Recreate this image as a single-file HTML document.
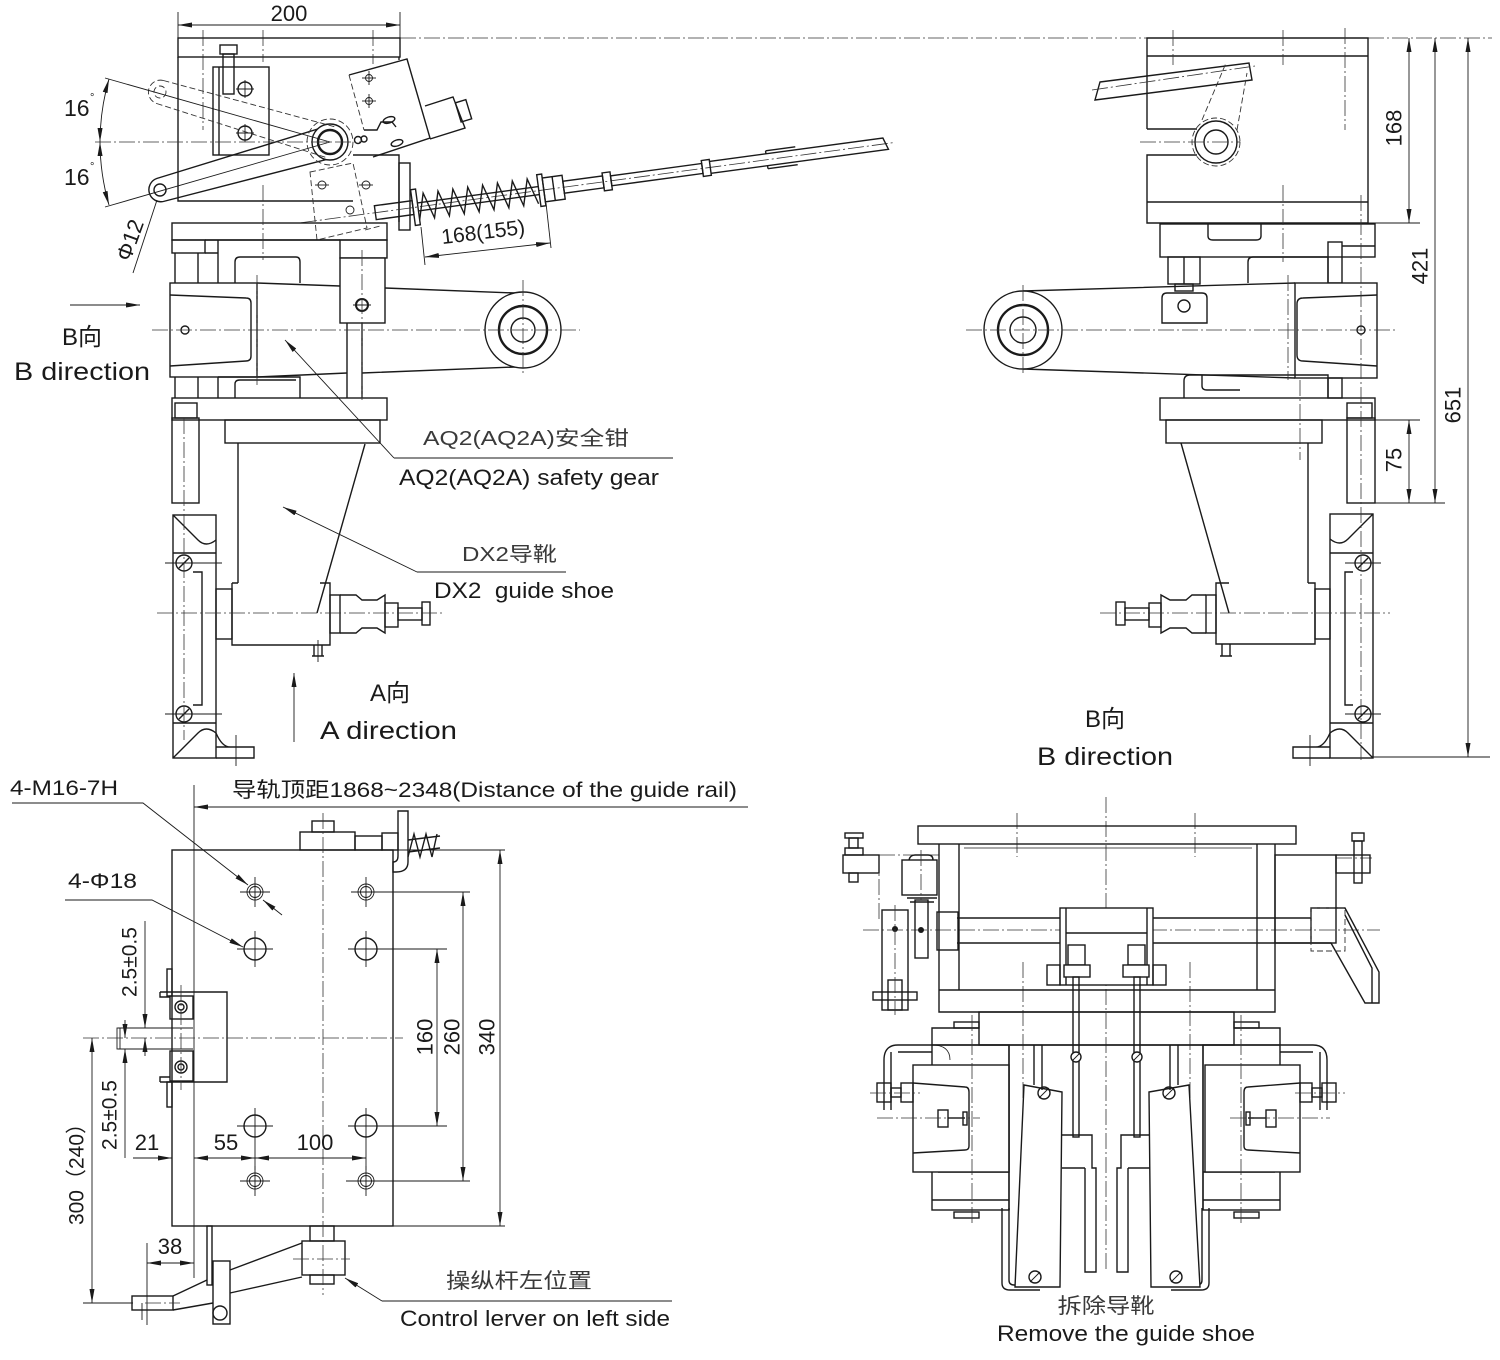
<!DOCTYPE html>
<html><head><meta charset="utf-8"><style>
html,body{margin:0;padding:0;background:#fff;}
svg{display:block;}
.o{stroke:#1a1a1a;stroke-width:1.4;fill:none;}
.w{stroke:#1a1a1a;stroke-width:1.4;fill:#fff;}
.t{stroke:#1a1a1a;stroke-width:0.9;fill:none;}
.k{stroke:#1a1a1a;stroke-width:2.4;fill:none;}
.c{stroke:#333;stroke-width:0.8;fill:none;stroke-dasharray:16 3 2 3;}
.d{stroke:#333;stroke-width:0.9;fill:none;stroke-dasharray:6 3;}
text{font-family:"Liberation Sans","Noto Sans CJK SC",sans-serif;fill:#1a1a1a;}
.g{fill:#3a3a3a;}
</style></head><body>
<svg width="1500" height="1360" viewBox="0 0 1500 1360" xmlns="http://www.w3.org/2000/svg">
<defs>
<marker id="a" viewBox="0 0 14 5" refX="14" refY="2.5" markerWidth="14" markerHeight="5" markerUnits="userSpaceOnUse" orient="auto-start-reverse"><path d="M0,0 L14,2.5 L0,5 z" fill="#1a1a1a"/></marker>
</defs>
<rect width="1500" height="1360" fill="#fff"/>

<!-- ================= TOP LEFT VIEW ================= -->
<line class="t" x1="178" y1="12" x2="178" y2="38"/>
<line class="t" x1="400" y1="12" x2="400" y2="38"/>
<line class="t" x1="178" y1="25" x2="400" y2="25" marker-start="url(#a)" marker-end="url(#a)"/>
<text x="289" y="21" font-size="22" text-anchor="middle">200</text>
<line class="c" x1="400" y1="38" x2="1147" y2="38"/>
<line class="c" x1="1368" y1="38" x2="1492" y2="38"/>
<line class="c" x1="203" y1="30" x2="203" y2="130"/>
<line class="c" x1="263" y1="30" x2="263" y2="62"/>
<line class="c" x1="373" y1="30" x2="373" y2="64"/>

<g class="o">
<rect x="178" y="38" width="222" height="19"/>
<path d="M178,57 V201 H353"/>
<path d="M399,57 V60"/>
<rect x="213" y="67" width="56" height="88"/>
<line x1="219" y1="67" x2="219" y2="155"/>
<rect x="220" y="45" width="17" height="9"/>
<rect x="223" y="54" width="11" height="40"/>
<circle cx="245" cy="89" r="7"/>
<circle cx="245" cy="133" r="7"/>
<!-- switch box -->
<path d="M349,75 L407,59 L430,138 L373,157"/>
<path d="M425,106 L453,97 L465,128 L430,139"/>
<path d="M364,130 H377 L381,122 H392 L396,127"/>
<rect x="458" y="101" width="11" height="20" transform="rotate(-17 463 111)"/>
<ellipse cx="389" cy="120" rx="6" ry="3" transform="rotate(-17 389 120)"/>
<ellipse cx="397" cy="143" rx="6" ry="3" transform="rotate(-17 397 143)"/>
<circle cx="358" cy="140" r="3.5"/><circle cx="364" cy="139" r="3"/>
<path d="M353,155 H399 V222"/>
<rect x="399" y="163" width="11" height="67"/>
<!-- lever -->
<path d="M156.7,178.5 L325.6,126.6 M163.3,201.5 L334.4,157.4 M156.7,178.5 A12,12 0 0 0 163.3,201.5"/>
<circle cx="160" cy="190" r="6"/>
<circle cx="330" cy="142" r="18" class="w"/>
<circle cx="330" cy="142" r="12" class="k"/>
</g>
<g class="t">
<line x1="245" y1="80" x2="245" y2="98"/><line x1="236" y1="89" x2="254" y2="89"/>
<line x1="245" y1="124" x2="245" y2="142"/><line x1="236" y1="133" x2="254" y2="133"/>
</g>
<g class="d">
<path d="M163.4,80.5 L334.5,126.7 M156.6,103.5 L325.5,157.3 M163.4,80.5 A12,12 0 0 0 156.6,103.5"/>
<circle cx="160" cy="92" r="6"/>
<circle cx="330" cy="142" r="23"/>
<path d="M349,75 L364,130"/>
<path d="M310,172 L353,163 L367,228 L317,240 Z"/>
<path d="M365,230 L380,226"/>
</g>
<g class="t">
<circle cx="369" cy="78" r="3.5"/><circle cx="369" cy="101" r="3.5"/>
<circle cx="322" cy="185" r="4"/><circle cx="366" cy="185" r="4"/><circle cx="350" cy="210" r="4"/>
<line x1="362" y1="78" x2="376" y2="78"/><line x1="369" y1="71" x2="369" y2="85"/>
<line x1="362" y1="101" x2="376" y2="101"/><line x1="369" y1="94" x2="369" y2="108"/>
<line x1="315" y1="185" x2="329" y2="185"/><line x1="359" y1="185" x2="373" y2="185"/>
</g>
<line class="c" x1="95" y1="142" x2="360" y2="142"/>
<line class="t" x1="105" y1="78" x2="330" y2="142"/>
<line class="t" x1="105" y1="207" x2="330" y2="142"/>
<path class="t" d="M109,79 A230,230 0 0 0 100,142" marker-start="url(#a)" marker-end="url(#a)"/>
<path class="t" d="M100,142 A230,230 0 0 0 109,205" marker-start="url(#a)" marker-end="url(#a)"/>
<text x="64" y="116" font-size="23">16</text><text x="90" y="101" font-size="11">°</text>
<text x="64" y="185" font-size="23">16</text><text x="90" y="170" font-size="11">°</text>
<line class="t" x1="157" y1="200" x2="133" y2="273"/>
<text x="130" y="240" font-size="22" text-anchor="middle" dominant-baseline="central" transform="rotate(-70 130 240)">Φ12</text>

<!-- cable & spring -->
<g transform="rotate(-7.7 410 208)">
<line class="c" x1="300" y1="208" x2="898" y2="208"/>
<g class="o">
<rect x="375" y="201" width="38" height="14"/>
<rect x="413" y="190" width="5" height="36"/>
<line x1="418" y1="204" x2="540" y2="204"/><line x1="418" y1="212" x2="540" y2="212"/>
<polyline points="418,221 425,195 433,221 440,195 448,221 455,195 463,221 470,195 478,221 485,195 493,221 500,195 508,221 515,195 523,221 530,195 538,221"/>
<rect x="540" y="192" width="5" height="32"/>
<rect x="545" y="196" width="20" height="24"/>
<line x1="555" y1="196" x2="555" y2="220"/>
<rect x="565" y="202" width="40" height="12"/>
<rect x="605" y="199" width="8" height="18"/>
<rect x="613" y="203" width="92" height="10"/>
<rect x="705" y="200" width="8" height="16"/>
<path d="M713,202 H888 L892,214 H713"/>
<path d="M770,199 H800 M770,217 H800 M770,199 V202 M770,214 V217"/>
</g>
</g>
<line class="t" x1="421" y1="227" x2="425" y2="265"/>
<line class="t" x1="546" y1="203" x2="551" y2="248"/>
<line class="t" x1="425" y1="257" x2="550" y2="243" marker-start="url(#a)" marker-end="url(#a)"/>
<text x="484" y="239" font-size="21" text-anchor="middle" transform="rotate(-7 484 239)">168(155)</text>

<!-- lower base -->
<g class="o">
<rect x="172" y="223" width="215" height="17"/>
<rect x="172" y="240" width="33" height="13"/>
<path d="M218,240 V283 M205,240 H340 M205,253 H218"/>
<path d="M235,283 V262 Q235,257 240,257 H296 Q300,257 300,262 V283"/>
<rect x="340" y="240" width="47" height="18"/>
<path d="M175,253 V283 M198,253 V283 M175,377 V398 M198,377 V398"/>
<rect x="170" y="283" width="87" height="94" class="w"/>
<path d="M170,295 L246,298 Q251,298 251,303 V356 Q251,361 246,361 L170,366"/>
<path d="M257,283 L340,286 M385,288 L515,293"/>
<path d="M257,377 L347,373 M362,373 L515,367"/>
<circle cx="523" cy="330" r="38" class="w"/>
<circle cx="523" cy="330" r="24" class="k"/>
<circle cx="523" cy="330" r="12"/>
<rect x="340" y="258" width="45" height="65" class="w"/>
<circle cx="362" cy="305" r="6" stroke-width="2"/>
<path d="M347,323 V398 M362,323 V398"/>
<circle cx="185" cy="330" r="4"/>
<path d="M218,377 H300 V398 M218,377 V398"/>
<path d="M235,398 V384 Q235,380 240,380 H296"/>
<rect x="172" y="398" width="215" height="22"/>
<rect x="175" y="403" width="22" height="15"/>
</g>
<line class="c" x1="152" y1="330" x2="580" y2="330"/>
<line class="c" x1="257" y1="275" x2="257" y2="385"/>
<line class="c" x1="263" y1="185" x2="263" y2="260"/>
<line class="c" x1="362" y1="250" x2="362" y2="400"/>
<line class="c" x1="523" y1="280" x2="523" y2="375"/>
<line class="t" x1="353" y1="305" x2="371" y2="305"/>

<g class="o">
<rect x="225" y="420" width="155" height="23"/>
<path d="M238,443 V583 M365,444 L317,613"/>
<rect x="172" y="418" width="27" height="85"/>
<rect x="173" y="515" width="43" height="243"/>
<path d="M173,515 L198,540 Q206,548 216,540"/>
<path d="M173,758 L198,733 Q206,725 216,733"/>
<path d="M173,553 H216 M173,723 H216 M193,572 H202 V705 H193"/>
<path d="M216,747 H254 V758 H216 M216,733 Q222,747 230,747"/>
<circle cx="184" cy="563" r="8"/><line x1="179" y1="568" x2="189" y2="558"/>
<circle cx="184" cy="714" r="8"/><line x1="179" y1="719" x2="189" y2="709"/>
<path d="M232,583 H238 M232,583 V645 H330 V583 H320"/>
<rect x="216" y="589" width="16" height="50"/>
<rect x="330" y="595" width="10" height="38"/>
<path d="M340,595 H356 L362,600 H377 L385,595 V633 L377,628 H362 L356,633 H340"/>
<rect x="385" y="603" width="13" height="24"/>
<rect x="398" y="608" width="24" height="12"/>
<rect x="422" y="602" width="8" height="23"/>
<path d="M314,645 V656 M322,645 V656 M312,656 H324"/>
</g>
<line class="c" x1="184" y1="418" x2="184" y2="740"/>
<line class="c" x1="157" y1="613" x2="445" y2="613"/>
<line class="t" x1="165" y1="563" x2="222" y2="563"/>
<line class="t" x1="165" y1="714" x2="222" y2="714"/>
<line class="t" x1="236" y1="735" x2="236" y2="766"/>
<line class="t" x1="318" y1="640" x2="318" y2="662"/>

<line class="t" x1="70" y1="305" x2="140" y2="305" marker-end="url(#a)"/>
<text x="82" y="345" font-size="24" text-anchor="middle">B向</text>
<text x="14" y="380" font-size="25" textLength="136" lengthAdjust="spacingAndGlyphs">B direction</text>
<line class="t" x1="294" y1="742" x2="294" y2="673" marker-end="url(#a)"/>
<text x="390" y="701" font-size="24" text-anchor="middle">A向</text>
<text x="320" y="739" font-size="25" textLength="137" lengthAdjust="spacingAndGlyphs">A direction</text>
<line class="t" x1="394" y1="458" x2="285" y2="340" marker-end="url(#a)"/>
<line class="t" x1="394" y1="458" x2="673" y2="458"/>
<text x="423" y="445" font-size="20" class="g" textLength="206" lengthAdjust="spacingAndGlyphs">AQ2(AQ2A)安全钳</text>
<text x="399" y="485" font-size="22" textLength="260" lengthAdjust="spacingAndGlyphs">AQ2(AQ2A) safety gear</text>
<line class="t" x1="417" y1="572" x2="283" y2="507" marker-end="url(#a)"/>
<line class="t" x1="417" y1="572" x2="566" y2="572"/>
<text x="462" y="561" font-size="20" class="g" textLength="95" lengthAdjust="spacingAndGlyphs">DX2导靴</text>
<text x="434" y="598" font-size="22" textLength="180" lengthAdjust="spacingAndGlyphs" xml:space="preserve">DX2  guide shoe</text>

<!-- ================= TOP RIGHT (B) VIEW ================= -->
<g class="o">
<path d="M1147,129 V38 H1368 V223 H1147 V155 H1197 M1147,129 H1197"/>
<line x1="1147" y1="56" x2="1368" y2="56"/>
<line x1="1147" y1="202" x2="1368" y2="202"/>
<path d="M1100,82 L1249,63 L1252,80 L1095,100 Z"/>
<circle cx="1216" cy="142" r="21" class="w"/>
<circle cx="1216" cy="142" r="12"/>
<rect x="1160" y="224" width="215" height="33"/>
<path d="M1208,224 V236 Q1208,240 1213,240 H1256 Q1261,240 1261,236 V224"/>
<rect x="1168" y="257" width="32" height="27"/>
<line x1="1184" y1="257" x2="1184" y2="284"/>
<rect x="1175" y="284" width="18" height="7"/>
<path d="M1248,283 V262 Q1248,257 1253,257 H1328 V283"/>
<rect x="1328" y="242" width="14" height="41"/>
<path d="M1342,246 H1375"/>
<rect x="1295" y="283" width="82" height="95" class="w"/>
<path d="M1377,295 L1303,298 Q1297,298 1297,304 V355 Q1297,361 1303,361 L1377,366"/>
<path d="M1023,291 L1295,283 M1023,369 L1295,378"/>
<circle cx="1023" cy="330" r="39" class="w"/>
<circle cx="1023" cy="330" r="25" class="k"/>
<circle cx="1023" cy="330" r="13"/>
<path d="M1162,323 V298 Q1162,293 1167,293 H1202 Q1207,293 1207,298 V323 Z"/>
<circle cx="1184" cy="306" r="6"/>
<circle cx="1361" cy="330" r="4"/>
<path d="M1184,398 V381 Q1184,375 1190,375 H1328 V398"/>
<path d="M1202,375 V386 Q1202,390 1207,390 H1240"/>
<rect x="1328" y="378" width="14" height="20"/>
<rect x="1160" y="398" width="215" height="22"/>
<rect x="1347" y="403" width="25" height="15"/>
<rect x="1166" y="420" width="156" height="23"/>
<path d="M1308,443 V583 M1181,443 L1229,613"/>
<rect x="1347" y="418" width="28" height="85"/>
<rect x="1330" y="514" width="43" height="244"/>
<path d="M1373,514 L1348,539 Q1340,547 1330,539"/>
<path d="M1373,758 L1348,733 Q1340,725 1330,733"/>
<path d="M1330,553 H1373 M1330,723 H1373 M1353,572 H1345 V705 H1353"/>
<path d="M1330,747 H1293 V758 H1330 M1330,733 Q1324,747 1316,747"/>
<circle cx="1363" cy="563" r="8"/><line x1="1358" y1="568" x2="1368" y2="558"/>
<circle cx="1363" cy="714" r="8"/><line x1="1358" y1="719" x2="1368" y2="709"/>
<path d="M1308,583 H1315 V644 H1216 V583 H1229"/>
<rect x="1315" y="589" width="15" height="50"/>
<rect x="1206" y="595" width="10" height="38"/>
<path d="M1206,595 H1192 L1186,600 H1170 L1161,595 V633 L1170,628 H1186 L1192,633 H1206"/>
<rect x="1149" y="603" width="12" height="24"/>
<rect x="1125" y="608" width="24" height="12"/>
<rect x="1116" y="602" width="9" height="23"/>
<path d="M1222,644 V656 M1230,644 V656 M1220,656 H1232"/>
</g>
<g class="d">
<path d="M1202,120 L1226,63 M1237,130 L1247,73"/>
<circle cx="1216" cy="142" r="24"/>
</g>
<line class="c" x1="1140" y1="142" x2="1240" y2="142"/>
<line class="c" x1="1092" y1="90" x2="1255" y2="66"/>
<line class="c" x1="1173" y1="30" x2="1173" y2="65"/>
<line class="c" x1="1283" y1="30" x2="1283" y2="65"/>
<line class="c" x1="1345" y1="28" x2="1345" y2="130"/>
<line class="c" x1="1283" y1="185" x2="1283" y2="262"/>
<line class="c" x1="1361" y1="195" x2="1361" y2="760"/>
<line class="c" x1="966" y1="330" x2="1395" y2="330"/>
<line class="c" x1="1023" y1="285" x2="1023" y2="375"/>
<line class="c" x1="1100" y1="613" x2="1390" y2="613"/>
<line class="c" x1="1288" y1="275" x2="1288" y2="380"/>
<line class="c" x1="1300" y1="380" x2="1300" y2="460"/>
<line class="t" x1="1345" y1="563" x2="1381" y2="563"/>
<line class="t" x1="1345" y1="714" x2="1381" y2="714"/>
<line class="t" x1="1310" y1="735" x2="1310" y2="766"/>
<line class="t" x1="1368" y1="223" x2="1420" y2="223"/>
<line class="t" x1="1375" y1="420" x2="1420" y2="420"/>
<line class="t" x1="1375" y1="503" x2="1445" y2="503"/>
<line class="t" x1="1373" y1="757" x2="1490" y2="757"/>
<line class="t" x1="1409" y1="38" x2="1409" y2="223" marker-start="url(#a)" marker-end="url(#a)"/>
<line class="t" x1="1435" y1="38" x2="1435" y2="503" marker-start="url(#a)" marker-end="url(#a)"/>
<line class="t" x1="1468" y1="38" x2="1468" y2="757" marker-start="url(#a)" marker-end="url(#a)"/>
<line class="t" x1="1409" y1="420" x2="1409" y2="503" marker-start="url(#a)" marker-end="url(#a)"/>
<text x="1394" y="128" font-size="22" text-anchor="middle" dominant-baseline="central" transform="rotate(-90 1394 128)">168</text>
<text x="1420" y="266" font-size="22" text-anchor="middle" dominant-baseline="central" transform="rotate(-90 1420 266)">421</text>
<text x="1453" y="405" font-size="22" text-anchor="middle" dominant-baseline="central" transform="rotate(-90 1453 405)">651</text>
<text x="1394" y="460" font-size="22" text-anchor="middle" dominant-baseline="central" transform="rotate(-90 1394 460)">75</text>
<text x="1105" y="727" font-size="24" text-anchor="middle">B向</text>
<text x="1037" y="765" font-size="25" textLength="136" lengthAdjust="spacingAndGlyphs">B direction</text>

<!-- ================= BOTTOM LEFT VIEW ================= -->
<text x="10" y="795" font-size="21" textLength="108" lengthAdjust="spacingAndGlyphs">4-M16-7H</text>
<path class="t" d="M12,803 H143 L248,885" marker-end="url(#a)"/>
<line class="t" x1="263" y1="900" x2="282" y2="915" marker-start="url(#a)"/>
<text x="68" y="888" font-size="21" textLength="69" lengthAdjust="spacingAndGlyphs">4-Φ18</text>
<path class="t" d="M65,900 H152 L243,947" marker-end="url(#a)"/>
<line class="t" x1="194" y1="785" x2="194" y2="1278"/>
<line class="t" x1="194" y1="807" x2="748" y2="807" marker-start="url(#a)"/>
<text x="232" y="797" font-size="21" textLength="505" lengthAdjust="spacingAndGlyphs">导轨顶距1868~2348(Distance of the guide rail)</text>

<g class="o">
<rect x="312" y="821" width="22" height="11"/>
<rect x="300" y="832" width="55" height="18"/>
<rect x="355" y="836" width="27" height="14"/>
<rect x="382" y="833" width="16" height="17"/>
<path d="M398,811 H408 V862 Q408,872 396,872 H393 V862 Q398,862 398,856 Z"/>
<polyline points="408,857 414,834 420,857 426,834 432,857 437,834"/>
<line x1="408" y1="840" x2="440" y2="836"/><line x1="408" y1="852" x2="440" y2="848"/>
<rect x="172" y="850" width="221" height="376"/>
<path d="M160,992 H227 V1082 H160 M160,992 V997 H170 M160,1082 V1077 H170"/>
<rect x="167" y="969" width="5" height="27"/>
<rect x="167" y="1082" width="5" height="25"/>
<rect x="170" y="996" width="23" height="23"/>
<rect x="170" y="1051" width="23" height="30"/>
<circle cx="181" cy="1007" r="6"/><circle cx="181" cy="1007" r="3"/>
<circle cx="181" cy="1067" r="6"/><circle cx="181" cy="1067" r="3"/>
<rect x="207" y="1226" width="5" height="59"/>
<rect x="310" y="1226" width="24" height="15"/>
<rect x="302" y="1241" width="43" height="34"/>
<rect x="310" y="1275" width="24" height="9"/>
<path d="M302,1243 L230,1270 M302,1277 L230,1293"/>
<path d="M207,1280 L173,1296 M213,1303 L173,1310"/>
<rect x="132" y="1296" width="41" height="14"/>
<rect x="213" y="1261" width="17" height="63"/>
<circle cx="220" cy="1313" r="7"/>
</g>
<g class="t">
<line x1="118" y1="1028" x2="193" y2="1028"/>
<line x1="118" y1="1049" x2="193" y2="1049"/>
<rect x="117" y="1028" width="3" height="21"/>
<circle cx="255" cy="892" r="8"/><circle cx="255" cy="892" r="5.5"/>
<circle cx="366" cy="892" r="8"/><circle cx="366" cy="892" r="5.5"/>
<circle cx="255" cy="1181" r="8"/><circle cx="255" cy="1181" r="5.5"/>
<circle cx="366" cy="1181" r="8"/><circle cx="366" cy="1181" r="5.5"/>
</g>
<g class="o">
<circle cx="255" cy="949" r="11"/><circle cx="366" cy="949" r="11"/>
<circle cx="255" cy="1126" r="11"/><circle cx="366" cy="1126" r="11"/>
</g>
<g class="t">
<path d="M240,892 H270 M255,877 V907 M351,892 H381 M366,877 V907"/>
<path d="M240,1181 H270 M255,1166 V1196 M346,1181 H381 M366,1166 V1196"/>
<path d="M237,949 H273 M255,931 V967 M348,949 H384 M366,931 V967"/>
<path d="M237,1126 H273 M255,1108 V1170 M348,1126 H384 M366,1108 V1170"/>
<path d="M142,1303 V1320 M147,1243 V1325"/>
</g>
<line class="c" x1="323" y1="813" x2="323" y2="1295"/>
<line class="c" x1="83" y1="1038" x2="403" y2="1038"/>
<line class="c" x1="181" y1="985" x2="181" y2="1090"/>
<line class="c" x1="145" y1="1303" x2="180" y2="1303"/>
<line class="c" x1="293" y1="1259" x2="350" y2="1259"/>
<line class="t" x1="145" y1="921" x2="145" y2="1028" marker-end="url(#a)"/>
<line class="t" x1="145" y1="1056" x2="145" y2="1038" marker-end="url(#a)"/>
<line class="t" x1="125" y1="1020" x2="125" y2="1038" marker-end="url(#a)"/>
<line class="t" x1="125" y1="1158" x2="125" y2="1049" marker-end="url(#a)"/>
<text x="130" y="962" font-size="21" text-anchor="middle" dominant-baseline="central" transform="rotate(-90 130 962)">2.5±0.5</text>
<text x="110" y="1115" font-size="21" text-anchor="middle" dominant-baseline="central" transform="rotate(-90 110 1115)">2.5±0.5</text>
<line class="t" x1="83" y1="1303" x2="133" y2="1303"/>
<line class="t" x1="92" y1="1038" x2="92" y2="1303" marker-start="url(#a)" marker-end="url(#a)"/>
<text x="77" y="1169" font-size="21" text-anchor="middle" dominant-baseline="central" transform="rotate(-90 77 1169)">300（240）</text>
<line class="t" x1="133" y1="1158" x2="172" y2="1158" marker-end="url(#a)"/>
<line class="t" x1="194" y1="1158" x2="255" y2="1158" marker-start="url(#a)" marker-end="url(#a)"/>
<line class="t" x1="255" y1="1158" x2="366" y2="1158" marker-start="url(#a)" marker-end="url(#a)"/>
<text x="147" y="1150" font-size="22" text-anchor="middle">21</text>
<text x="226" y="1150" font-size="22" text-anchor="middle">55</text>
<text x="315" y="1150" font-size="22" text-anchor="middle">100</text>
<line class="t" x1="147" y1="1263" x2="194" y2="1263" marker-start="url(#a)" marker-end="url(#a)"/>
<text x="170" y="1254" font-size="22" text-anchor="middle">38</text>
<line class="t" x1="393" y1="850" x2="505" y2="850"/>
<line class="t" x1="393" y1="1226" x2="505" y2="1226"/>
<line class="t" x1="380" y1="892" x2="470" y2="892"/>
<line class="t" x1="380" y1="1181" x2="470" y2="1181"/>
<line class="t" x1="380" y1="949" x2="447" y2="949"/>
<line class="t" x1="380" y1="1126" x2="447" y2="1126"/>
<line class="t" x1="437" y1="949" x2="437" y2="1126" marker-start="url(#a)" marker-end="url(#a)"/>
<line class="t" x1="463" y1="892" x2="463" y2="1181" marker-start="url(#a)" marker-end="url(#a)"/>
<line class="t" x1="500" y1="850" x2="500" y2="1226" marker-start="url(#a)" marker-end="url(#a)"/>
<text x="425" y="1037" font-size="22" text-anchor="middle" dominant-baseline="central" transform="rotate(-90 425 1037)">160</text>
<text x="452" y="1037" font-size="22" text-anchor="middle" dominant-baseline="central" transform="rotate(-90 452 1037)">260</text>
<text x="487" y="1037" font-size="22" text-anchor="middle" dominant-baseline="central" transform="rotate(-90 487 1037)">340</text>
<line class="t" x1="382" y1="1301" x2="345" y2="1278" marker-end="url(#a)"/>
<line class="t" x1="382" y1="1301" x2="672" y2="1301"/>
<text x="446" y="1288" font-size="21" class="g" textLength="146" lengthAdjust="spacingAndGlyphs">操纵杆左位置</text>
<text x="400" y="1326" font-size="22" textLength="270" lengthAdjust="spacingAndGlyphs">Control lerver on left side</text>

<!-- ================= BOTTOM RIGHT VIEW ================= -->
<line class="c" x1="1106" y1="797" x2="1106" y2="1272"/>
<line class="c" x1="1017" y1="813" x2="1017" y2="857"/>
<line class="c" x1="1195" y1="813" x2="1195" y2="857"/>
<line class="c" x1="1023" y1="962" x2="1023" y2="1100"/>
<line class="c" x1="1190" y1="962" x2="1190" y2="1100"/>
<line class="c" x1="863" y1="930" x2="1380" y2="930"/>
<line class="c" x1="879" y1="855" x2="939" y2="855"/>
<line class="c" x1="1336" y1="858" x2="1372" y2="858"/>
<line class="c" x1="879" y1="855" x2="879" y2="920"/>
<g class="o">
<rect x="918" y="826" width="378" height="18"/>
<path d="M939,844 V1012 H1275 V844"/>
<path d="M959,844 V990 M1257,844 V990"/>
<path d="M964,848 H1252" stroke-width="0.8"/>
<line x1="939" y1="990" x2="1275" y2="990"/>
<line x1="957" y1="918" x2="1311" y2="918"/>
<line x1="957" y1="943" x2="1311" y2="943"/>
<rect x="937" y="912" width="21" height="38"/>
<rect x="1060" y="908" width="93" height="77" class="w"/>
<path d="M1066,908 V985 M1147,908 V985 M1066,933 H1147"/>
<rect x="1068" y="945" width="17" height="20" class="w"/>
<rect x="1128" y="945" width="17" height="20" class="w"/>
<rect x="1064" y="965" width="26" height="12" class="w"/>
<rect x="1123" y="965" width="26" height="12" class="w"/>
<rect x="1047" y="965" width="13" height="20"/>
<rect x="1153" y="965" width="13" height="20"/>
<rect x="1073" y="977" width="6" height="160"/>
<rect x="1134" y="977" width="6" height="160"/>
<circle cx="1076" cy="1057" r="5" class="w"/><circle cx="1137" cy="1057" r="5" class="w"/>
<!-- left mech -->
<rect x="843" y="855" width="36" height="18"/>
<rect x="845" y="833" width="18" height="5"/><rect x="845" y="848" width="18" height="7"/>
<rect x="849" y="838" width="9" height="10"/><rect x="849" y="873" width="9" height="9"/>
<rect x="902" y="860" width="35" height="35"/>
<path d="M909,860 Q910,855 915,855 H928 Q933,855 933,860"/>
<path d="M907,898 H937 M910,902 H934"/>
<rect x="915" y="900" width="13" height="58"/>
<rect x="882" y="910" width="26" height="100"/>
<rect x="888" y="980" width="14" height="30"/>
<rect x="873" y="992" width="44" height="8"/>
<!-- right mech -->
<rect x="1275" y="855" width="61" height="88"/>
<rect x="1336" y="855" width="34" height="18"/>
<rect x="1352" y="833" width="12" height="8"/><rect x="1354" y="841" width="8" height="42"/>
<path d="M1311,908 H1345 L1379,972 V1003 H1365 L1331,943 H1311 Z"/>
<path d="M1345,915 L1372,968 V1003"/>
<!-- lower structure -->
<rect x="979" y="1012" width="255" height="33"/>
<path d="M932,1045 V1028 H979 M1234,1028 H1280 V1045"/>
<rect x="932" y="1045" width="77" height="165"/>
<rect x="1203" y="1045" width="77" height="165"/>
<path d="M932,1045 H1280 M938,1172 H1009 M1203,1172 H1275 M932,1200 H1009 M1203,1200 H1280"/>
<path d="M932,1045 Q950,1045 950,1060" stroke-width="0.8"/>
<path d="M898,1045 H932 M898,1052 H932 M898,1045 Q884,1045 884,1060 V1110 M891,1052 V1110"/>
<path d="M1280,1045 H1313 M1280,1052 H1313 M1313,1045 Q1327,1045 1327,1060 V1110 M1320,1052 V1110"/>
<rect x="913" y="1065" width="96" height="107" class="w"/>
<rect x="1205" y="1065" width="95" height="107" class="w"/>
<path d="M913,1083 L965,1087 Q969,1087 969,1092 V1146 Q969,1150 965,1150 L913,1153"/>
<path d="M1300,1083 L1248,1087 Q1244,1087 1244,1092 V1146 Q1244,1150 1248,1150 L1300,1153"/>
<rect x="877" y="1083" width="14" height="19"/><rect x="891" y="1088" width="10" height="9"/><rect x="901" y="1083" width="12" height="19"/>
<rect x="1300" y="1083" width="12" height="19"/><rect x="1312" y="1088" width="10" height="9"/><rect x="1322" y="1083" width="14" height="19"/>
<rect x="938" y="1110" width="10" height="17"/><path d="M948,1118 H965"/><rect x="963" y="1112" width="4" height="13"/>
<rect x="1266" y="1110" width="10" height="17"/><path d="M1248,1118 H1266"/><rect x="1246" y="1112" width="4" height="13"/>
<rect x="954" y="1022" width="25" height="6"/><rect x="1234" y="1022" width="25" height="6"/>
<rect x="954" y="1212" width="25" height="6"/><rect x="1234" y="1212" width="25" height="6"/>
<path d="M1002,1208 V1283 Q1002,1290 1010,1290 H1040"/>
<path d="M1009,1208 V1280 Q1009,1285 1014,1285 H1040"/>
<path d="M1209,1208 V1283 Q1209,1290 1201,1290 H1171"/>
<path d="M1202,1208 V1280 Q1202,1285 1197,1285 H1171"/>
<path d="M1024,1085 L1062,1092 L1060,1287 H1015 Z" class="w"/>
<path d="M1189,1085 L1149,1092 L1151,1287 H1200 Z" class="w"/>
<path d="M1062,1135 H1092 V1168 H1096 V1272 H1085 V1168 M1062,1168 H1085"/>
<path d="M1150,1135 H1121 V1168 H1117 V1272 H1128 V1168 M1150,1168 H1128"/>
<circle cx="1044" cy="1093" r="6"/><circle cx="1169" cy="1093" r="6"/>
<circle cx="1035" cy="1277" r="6"/><circle cx="1176" cy="1277" r="6"/>
<path d="M1009,1045 V1210 M1203,1045 V1210"/>
<path d="M1034,1045 V1085 M1178,1045 V1085 M1042,1045 V1090 M1170,1045 V1090"/>
</g>
<circle cx="895" cy="929" r="3" fill="#1a1a1a"/>
<circle cx="921" cy="930" r="3" fill="#1a1a1a"/>
<g class="t">
<line x1="1039" y1="1098" x2="1049" y2="1088"/><line x1="1164" y1="1098" x2="1174" y2="1088"/>
<line x1="1030" y1="1282" x2="1040" y2="1272"/><line x1="1171" y1="1282" x2="1181" y2="1272"/>
<line x1="1072" y1="1061" x2="1080" y2="1053"/><line x1="1133" y1="1061" x2="1141" y2="1053"/>
</g>
<g class="d">
<rect x="1311" y="908" width="34" height="43"/>
</g>
<line class="c" x1="877" y1="1118" x2="980" y2="1118"/>
<line class="c" x1="1230" y1="1118" x2="1330" y2="1118"/>
<line class="c" x1="870" y1="1093" x2="920" y2="1093"/>
<line class="c" x1="1295" y1="1093" x2="1345" y2="1093"/>
<line class="c" x1="972" y1="1015" x2="972" y2="1225"/>
<line class="c" x1="1241" y1="1015" x2="1241" y2="1225"/>
<line class="c" x1="895" y1="905" x2="895" y2="1015"/>
<line class="c" x1="921" y1="850" x2="921" y2="900"/>
<text x="1106" y="1313" font-size="21" class="g" text-anchor="middle" textLength="97" lengthAdjust="spacingAndGlyphs">拆除导靴</text>
<text x="997" y="1341" font-size="22" textLength="258" lengthAdjust="spacingAndGlyphs">Remove the guide shoe</text>
</svg>
</body></html>
